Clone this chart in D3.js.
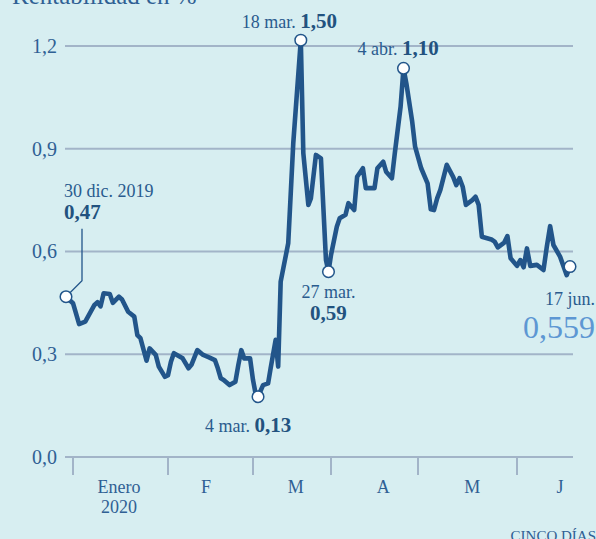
<!DOCTYPE html>
<html>
<head>
<meta charset="utf-8">
<script src="https://cdn.jsdelivr.net/npm/d3@7"></script>
<style>
  html, body { margin: 0; padding: 0; background: #d7eef1; }
  svg { display: block; font-family: "Liberation Serif", serif; }
  .grid line { stroke: #a2b4c8; stroke-width: 2; }
  .ylab { fill: #2f6094; font-size: 20px; }
  .xlab { fill: #2f6094; font-size: 18px; }
  .ann { fill: #2a5b8e; font-size: 18px; }
  .ann .val { font-weight: bold; font-size: 21px; fill: #22527f; }
</style>
</head>
<body>
<div id="chart"></div>
<script>
// Rentabilidad en % (yield), 30 dic. 2019 -> 17 jun. 2020
const dates = [
  '2019-12-30', '2020-01-01', '2020-01-03', '2020-01-05', '2020-01-08', '2020-01-09', '2020-01-10',
  '2020-01-11', '2020-01-13', '2020-01-14', '2020-01-16', '2020-01-17', '2020-01-19', '2020-01-21',
  '2020-01-22', '2020-01-23', '2020-01-25', '2020-01-26', '2020-01-28', '2020-01-29', '2020-01-31',
  '2020-02-01', '2020-02-02', '2020-02-03', '2020-02-06', '2020-02-08', '2020-02-09', '2020-02-11',
  '2020-02-13', '2020-02-15', '2020-02-17', '2020-02-18', '2020-02-19', '2020-02-20', '2020-02-22',
  '2020-02-24', '2020-02-25', '2020-02-26', '2020-02-27', '2020-02-29', '2020-03-01', '2020-03-02',
  '2020-03-03', '2020-03-05', '2020-03-07', '2020-03-08', '2020-03-10', '2020-03-11', '2020-03-12',
  '2020-03-15', '2020-03-17', '2020-03-20', '2020-03-21', '2020-03-23', '2020-03-24', '2020-03-26',
  '2020-03-28', '2020-03-30', '2020-03-31', '2020-04-01', '2020-04-03', '2020-04-04', '2020-04-06',
  '2020-04-07', '2020-04-09', '2020-04-10', '2020-04-12', '2020-04-13', '2020-04-16', '2020-04-17',
  '2020-04-19', '2020-04-20', '2020-04-22', '2020-04-23', '2020-04-25', '2020-04-26', '2020-04-27',
  '2020-04-29', '2020-04-30', '2020-05-02', '2020-05-04', '2020-05-05', '2020-05-06', '2020-05-07',
  '2020-05-08', '2020-05-10', '2020-05-12', '2020-05-13', '2020-05-14', '2020-05-15', '2020-05-16',
  '2020-05-18', '2020-05-19', '2020-05-20', '2020-05-21', '2020-05-24', '2020-05-25', '2020-05-26',
  '2020-05-28', '2020-05-29', '2020-05-30', '2020-06-01', '2020-06-02', '2020-06-03', '2020-06-04',
  '2020-06-05', '2020-06-07', '2020-06-09', '2020-06-10', '2020-06-11', '2020-06-12', '2020-06-14',
  '2020-06-16', '2020-06-17'
];
const values = [
  0.468, 0.449, 0.388, 0.395, 0.444, 0.452, 0.440,
  0.478, 0.476, 0.450, 0.468, 0.460, 0.424, 0.410,
  0.356, 0.347, 0.281, 0.317, 0.298, 0.264, 0.234,
  0.239, 0.278, 0.303, 0.288, 0.259, 0.269, 0.312,
  0.298, 0.291, 0.283, 0.259, 0.230, 0.225, 0.210,
  0.220, 0.269, 0.312, 0.288, 0.288, 0.225, 0.186,
  0.176, 0.210, 0.215, 0.259, 0.342, 0.264, 0.512,
  0.624, 0.916, 1.217, 0.887, 0.736, 0.755, 0.882,
  0.872, 0.575, 0.541, 0.590, 0.672, 0.697, 0.707,
  0.741, 0.721, 0.818, 0.843, 0.785, 0.785, 0.843,
  0.862, 0.833, 0.814, 0.887, 1.023, 1.135, 1.090,
  0.979, 0.906, 0.843, 0.799, 0.723, 0.721, 0.755,
  0.780, 0.853, 0.818, 0.794, 0.814, 0.789, 0.736,
  0.750, 0.760, 0.736, 0.643, 0.635, 0.629, 0.612,
  0.626, 0.645, 0.580, 0.558, 0.575, 0.554, 0.609,
  0.558, 0.561, 0.546, 0.614, 0.674, 0.619, 0.585,
  0.531, 0.556
];

const yTicks = [0, 0.3, 0.6, 0.9, 1.2];
const monthStarts = ['2020-01-01', '2020-02-01', '2020-03-01', '2020-04-01', '2020-05-01', '2020-06-01'];
const monthLabels = [['Enero', '2020'], ['F'], ['M'], ['A'], ['M'], ['J']];
const monthLabelDates = ['2020-01-16', '2020-02-14', '2020-03-18', '2020-04-19', '2020-05-18', '2020-06-14'];

// highlighted points: date of the marker, date text, value text
const annDates = ['2019-12-30', '2020-03-03', '2020-03-20', '2020-03-31', '2020-04-26', '2020-06-17'];
const annLabels = ['30 dic. 2019', '4 mar.', '18 mar.', '27 mar.', '4 abr.', '17 jun.'];
const annValues = ['0,47', '0,13', '1,50', '0,59', '1,10', '0,559'];

const parse = d3.timeParse('%Y-%m-%d');
const data = dates.map((d, i) => ({ date: parse(d), value: values[i] }));
const fmt = d3.format('.1f');
const comma = (v) => fmt(v).replace('.', ',');

const width = 596;
const height = 539;

// x axis is not evenly spaced by day in the original, so use a polylinear time scale
const x = d3.scaleTime()
  .domain([parse('2019-12-30')].concat(monthStarts.map(parse), [parse('2020-06-17')]))
  .range([66, 73, 168, 253, 331, 418, 517, 570]);
const y = d3.scaleLinear().domain([0, 1.2]).range([457, 46]);

const svg = d3.select('#chart').append('svg')
  .attr('width', width)
  .attr('height', height);

svg.append('text')
  .attr('x', 12).attr('y', 4)
  .attr('fill', '#2f6094')
  .style('font-size', '25px')
  .text('Rentabilidad en %');

/* GRID + Y LABELS */
const grid = svg.append('g').attr('class', 'grid');
grid.selectAll('line')
  .data(yTicks)
  .join('line')
  .attr('x1', 65).attr('x2', 573)
  .attr('y1', (d) => y(d)).attr('y2', (d) => y(d));

svg.append('g').selectAll('text')
  .data(yTicks)
  .join('text')
  .attr('class', 'ylab')
  .attr('x', 57)
  .attr('y', (d) => y(d))
  .attr('dy', '0.34em')
  .attr('text-anchor', 'end')
  .text((d) => comma(d));

/* X AXIS: month ticks + labels */
const xAxis = svg.append('g').attr('class', 'grid');
xAxis.selectAll('line')
  .data(monthStarts)
  .join('line')
  .attr('x1', (d) => x(parse(d))).attr('x2', (d) => x(parse(d)))
  .attr('y1', y(0)).attr('y2', y(0) + 18);

const xl = svg.append('g').selectAll('text')
  .data(monthLabels)
  .join('text')
  .attr('class', 'xlab')
  .attr('text-anchor', 'middle')
  .attr('x', (d, i) => x(parse(monthLabelDates[i])))
  .attr('y', 493);
xl.selectAll('tspan')
  .data((d) => d)
  .join('tspan')
  .attr('x', function () { return d3.select(this.parentNode).attr('x'); })
  .attr('dy', (d, i) => (i ? 20 : 0))
  .text((d) => d);

/* LINE */
const line = d3.line()
  .x((d) => x(d.date))
  .y((d) => y(d.value));

svg.append('path')
  .datum(data)
  .attr('d', line)
  .attr('fill', 'none')
  .attr('stroke', '#22558a')
  .attr('stroke-width', 4.6)
  .attr('stroke-linejoin', 'round')
  .attr('stroke-linecap', 'round');

/* ANNOTATIONS */
const lookup = new Map(data.map((d) => [+d.date, d.value]));
const pts = annDates.map((d, i) => {
  const dt = parse(d);
  return { px: x(dt), py: y(lookup.get(+dt)), label: annLabels[i], val: annValues[i] };
});

// leader line for first point
svg.append('path')
  .attr('d', `M${pts[0].px},${pts[0].py} L${pts[0].px + 16},${pts[0].py - 16} V${pts[0].py - 68}`)
  .attr('fill', 'none')
  .attr('stroke', '#22558a')
  .attr('stroke-width', 1.3);

svg.append('g').selectAll('circle')
  .data(pts)
  .join('circle')
  .attr('cx', (d) => d.px)
  .attr('cy', (d) => d.py)
  .attr('r', 5.8)
  .attr('fill', '#fff')
  .attr('stroke', '#22558a')
  .attr('stroke-width', 1.5);

const ann = svg.append('g').attr('class', 'ann');

// 30 dic. 2019 (stacked, left aligned)
ann.append('text').attr('x', 64).attr('y', 197).text(pts[0].label);
ann.append('text').attr('class', 'val').attr('x', 64).attr('y', 219).text(pts[0].val);

// inline "label value" pairs
function inline(p, xStart, yBase) {
  const t = ann.append('text').attr('x', xStart).attr('y', yBase);
  t.append('tspan').text(p.label + ' ');
  t.append('tspan').attr('class', 'val').text(p.val);
}
inline(pts[1], pts[1].px - 53, pts[1].py + 35);
inline(pts[2], pts[2].px - 59, pts[2].py - 12);
inline(pts[4], pts[4].px - 46, pts[4].py - 13);

// 27 mar. stacked, centred under the point
ann.append('text').attr('x', pts[3].px).attr('y', pts[3].py + 26)
  .attr('text-anchor', 'middle').text(pts[3].label);
ann.append('text').attr('class', 'val').attr('x', pts[3].px).attr('y', pts[3].py + 48)
  .attr('text-anchor', 'middle').text(pts[3].val);

// last value
ann.append('text').attr('x', 595).attr('y', pts[5].py + 38)
  .attr('text-anchor', 'end').text(pts[5].label);
ann.append('text').attr('x', 595).attr('y', pts[5].py + 71)
  .attr('text-anchor', 'end')
  .attr('fill', '#5d97d3')
  .style('font-size', '32px')
  .text(pts[5].val);

svg.append('text')
  .attr('x', 596).attr('y', 541)
  .attr('text-anchor', 'end')
  .attr('fill', '#2f6094')
  .style('font-size', '15px')
  .text('CINCO DÍAS');
</script>
</body>
</html>
